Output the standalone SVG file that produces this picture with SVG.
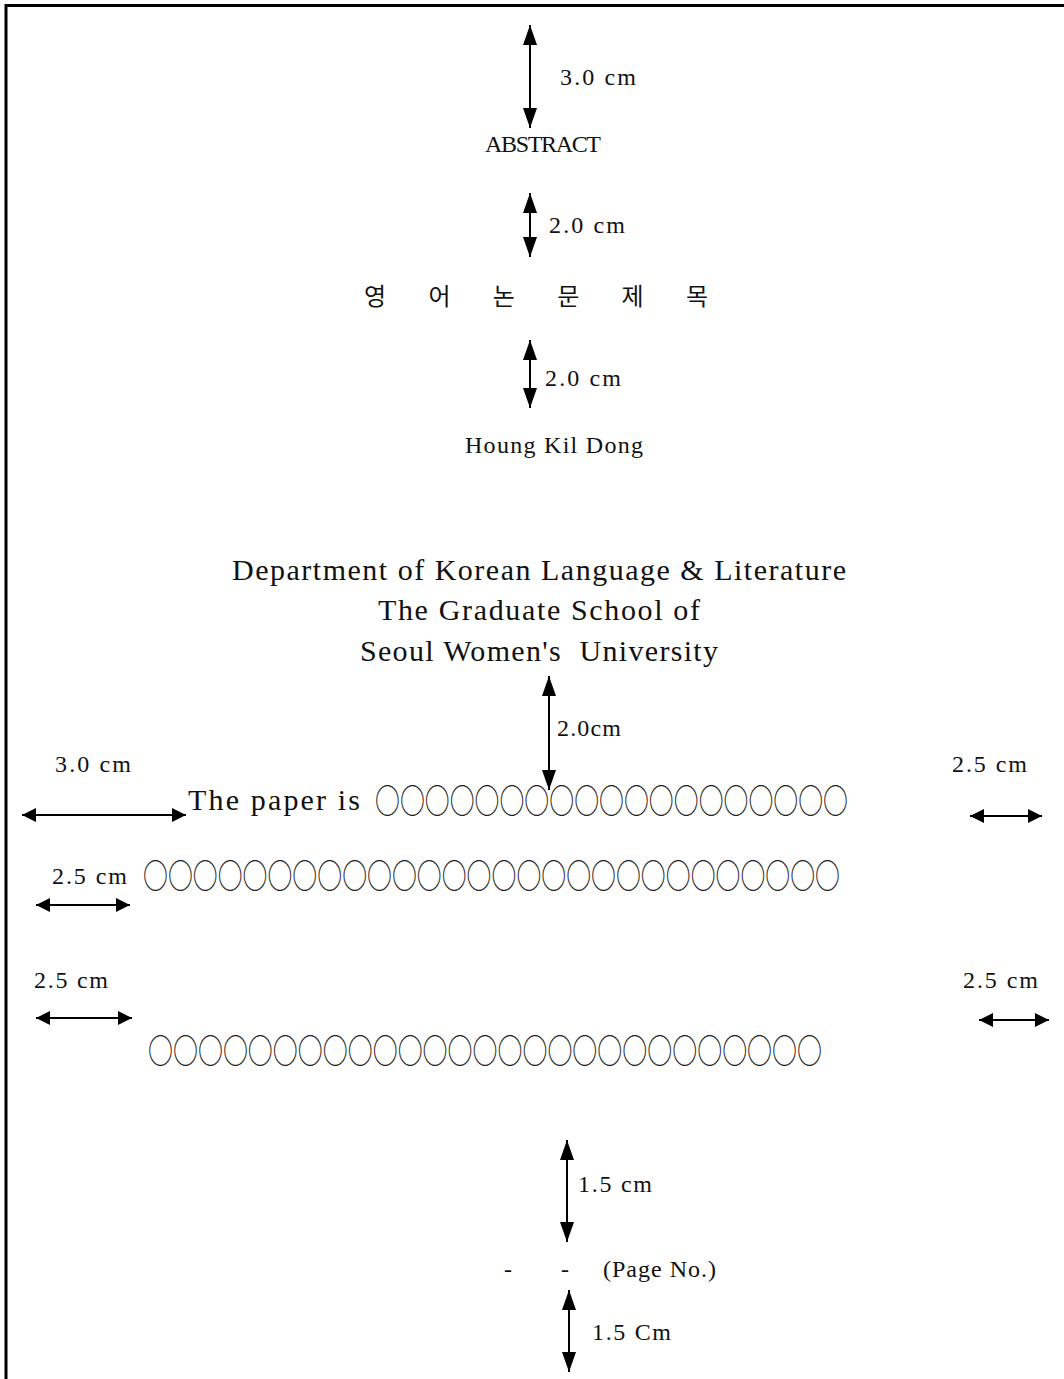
<svg xmlns="http://www.w3.org/2000/svg" width="1064" height="1379" viewBox="0 0 1064 1379">
<style>
.t{font-family:"Liberation Serif","Noto Sans CJK KR",serif;font-size:24px;fill:#111}
.b{font-family:"Liberation Serif","Noto Sans CJK KR",serif;font-size:30px;fill:#111}
.k{font-family:"Noto Sans CJK KR",sans-serif;font-size:24px;fill:#111}
.o{font-family:"Noto Sans CJK KR",sans-serif;font-size:33px;fill:#222}
.ln{stroke:#000;stroke-width:2;fill:none}
.frame{stroke:#000;stroke-width:3;fill:none}
</style>
<defs>
<marker id="arr" viewBox="0 0 20 14" refX="20" refY="7" markerWidth="20" markerHeight="14" markerUnits="userSpaceOnUse" orient="auto-start-reverse">
<path d="M0,0 L20,7 L0,14 z" fill="#000"/>
</marker>
<marker id="arrS" viewBox="0 0 14 14" refX="14" refY="7" markerWidth="14" markerHeight="14" markerUnits="userSpaceOnUse" orient="auto-start-reverse">
<path d="M0,0 L14,7 L0,14 z" fill="#000"/>
</marker>
</defs>
<rect width="1064" height="1379" fill="#fff"/>
<path class="frame" d="M6,1379 V5.5 H1064"/>
<g id="connectors">
<line class="ln" x1="530" y1="25" x2="530" y2="128" marker-start="url(#arr)" marker-end="url(#arr)"/>
<line class="ln" x1="530" y1="193" x2="530" y2="257" marker-start="url(#arr)" marker-end="url(#arr)"/>
<line class="ln" x1="530" y1="340" x2="530" y2="408" marker-start="url(#arr)" marker-end="url(#arr)"/>
<line class="ln" x1="549" y1="676" x2="549" y2="790" marker-start="url(#arr)" marker-end="url(#arr)"/>
<line class="ln" x1="22" y1="815" x2="186" y2="815" marker-start="url(#arrS)" marker-end="url(#arrS)"/>
<line class="ln" x1="970" y1="816" x2="1042" y2="816" marker-start="url(#arrS)" marker-end="url(#arrS)"/>
<line class="ln" x1="36" y1="905" x2="130" y2="905" marker-start="url(#arrS)" marker-end="url(#arrS)"/>
<line class="ln" x1="36" y1="1018" x2="132" y2="1018" marker-start="url(#arrS)" marker-end="url(#arrS)"/>
<line class="ln" x1="979" y1="1020" x2="1049" y2="1020" marker-start="url(#arrS)" marker-end="url(#arrS)"/>
<line class="ln" x1="567" y1="1140" x2="567" y2="1242" marker-start="url(#arr)" marker-end="url(#arr)"/>
<line class="ln" x1="569" y1="1290" x2="569" y2="1372" marker-start="url(#arr)" marker-end="url(#arr)"/>
</g>
<g id="top-margin"><text class="t" x="560" y="85" textLength="76">3.0 cm</text></g>
<g id="abstract"><text class="t" x="485" y="152" textLength="116">ABSTRACT</text></g>
<g id="gap1"><text class="t" x="549" y="233" textLength="76">2.0 cm</text></g>
<g id="title"><text class="k" x="364" y="305" textLength="344">영 어 논 문 제 목</text></g>
<g id="gap2"><text class="t" x="545" y="386" textLength="76">2.0 cm</text></g>
<g id="author"><text class="t" x="465" y="453" textLength="178">Houng Kil Dong</text></g>
<g id="affiliation">
<text class="b" x="232" y="580" textLength="614">Department of Korean Language &amp; Literature</text>
<text class="b" x="378" y="620" textLength="322">The Graduate School of</text>
<text class="b" x="360" y="661" textLength="358" xml:space="preserve">Seoul Women's  University</text>
</g>
<g id="gap3"><text class="t" x="557" y="736" textLength="64">2.0cm</text></g>
<g id="left-margin"><text class="t" x="55" y="772" textLength="76">3.0 cm</text></g>
<g id="right-margin1"><text class="t" x="952" y="772" textLength="75">2.5 cm</text></g>
<g id="line1">
<text class="b" x="188" y="810" textLength="172">The paper is</text>
<text class="o" x="375" y="813" textLength="473" lengthAdjust="spacingAndGlyphs">○○○○○○○○○○○○○○○○○○○</text>
</g>
<g id="line2">
<text class="t" x="52" y="884" textLength="75">2.5 cm</text>
<text class="o" x="143" y="888" textLength="697" lengthAdjust="spacingAndGlyphs">○○○○○○○○○○○○○○○○○○○○○○○○○○○○</text>
</g>
<g id="left-margin2"><text class="t" x="34" y="988" textLength="74">2.5 cm</text></g>
<g id="right-margin2"><text class="t" x="963" y="988" textLength="75">2.5 cm</text></g>
<g id="line3"><text class="o" x="148" y="1063" textLength="674" lengthAdjust="spacingAndGlyphs">○○○○○○○○○○○○○○○○○○○○○○○○○○○</text></g>
<g id="bottom-gap"><text class="t" x="578" y="1192" textLength="74">1.5 cm</text></g>
<g id="page-no">
<text class="t" x="504" y="1277">-</text>
<text class="t" x="561" y="1277">-</text>
<text class="t" x="603" y="1277" textLength="113">(Page No.)</text>
</g>
<g id="bottom-margin"><text class="t" x="592" y="1340" textLength="79">1.5 Cm</text></g>
</svg>
